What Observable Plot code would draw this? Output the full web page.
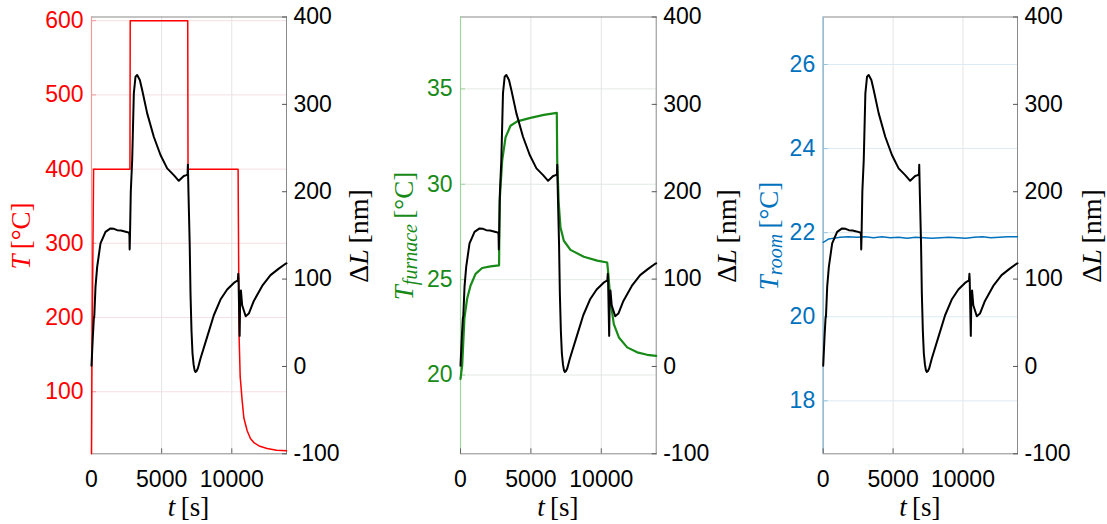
<!DOCTYPE html>
<html><head><meta charset="utf-8">
<script src="https://cdn.jsdelivr.net/npm/d3@7"></script>
<script src="https://cdn.jsdelivr.net/npm/@observablehq/plot@0.6"></script>
<style>
body{margin:0;background:#fff;}
#chart{position:relative;width:1107px;height:524px;overflow:hidden;background:#fff;}
.panel{position:absolute;top:0;height:524px;}
.panel svg{position:absolute;left:0;top:0;max-width:none;}
</style></head><body><div id="chart"></div>
<script>
// ---- tick labels ----
const timeTicks = [0, 5000, 10000];
const dLTicks = [-100, 0, 100, 200, 300, 400];
const tempTicks1 = [100, 200, 300, 400, 500, 600];
const tempTicks2 = [20, 25, 30, 35];
const tempTicks3 = [18, 20, 22, 24, 26];

// ---- ΔL (shared black curve) ----
const dL_t = [0, 95, 166, 200, 285, 404, 641, 998, 1354, 1600, 1830, 2100, 2304, 2500, 2680, 2705, 2720, 2745, 2800, 2900, 3017, 3136, 3255, 3445, 3612, 3970, 4440, 4918, 5394, 5867, 6223, 6580, 6770, 6850, 6870, 6914, 7000, 7057, 7130, 7200, 7280, 7350, 7413, 7480, 7580, 7770, 8245, 8720, 9195, 9670, 10145, 10430, 10460, 10480, 10560, 10600, 10650, 10740, 10990, 11214, 11570, 12166, 12760, 13350, 13830, 13900];
const dL_v = [0.8, 33.8, 54.8, 58, 91, 114, 140.8, 154, 158, 157.5, 156, 155.5, 154.8, 154, 153, 150, 134, 150, 200, 236, 312.6, 331.6, 333.6, 327.8, 316.4, 289.7, 262.9, 242, 226.7, 219, 212.5, 218, 219, 220, 231, 198, 140, 83.5, 40, 14.8, 2, -4.5, -6.3, -5.5, -2.4, 9, 33.8, 58.6, 76.6, 88, 95.6, 98.7, 106, 100, 35, 80, 87, 70, 57.5, 60.5, 75, 92.2, 104.5, 112, 117.6, 118];

// ---- T (red, panel 1) ----
const T_t = [0, 30, 150, 2740, 2760, 6860, 6880, 10450, 10520, 10600, 10740, 10858, 11097, 11330, 11570, 12000, 12520, 13200, 13900];
const T_v = [16.4, 135, 400, 400, 600, 600, 400, 400, 175, 120, 88, 65, 47.4, 37, 31.6, 26.5, 23.5, 21.3, 20.4];

// ---- T_furnace (green, panel 2) ----
const Tf_t = [0, 120, 190, 280, 470, 710, 1070, 1540, 2130, 2740, 2780, 2960, 3200, 3550, 4030, 4970, 5920, 6840, 6870, 6980, 7100, 7340, 7810, 8760, 9710, 10420, 10500, 10650, 10890, 11250, 11840, 12550, 13260, 13900];
const Tf_v = [19.8, 20.5, 21.6, 23.0, 24.0, 24.68, 25.3, 25.61, 25.70, 25.75, 29.1, 31.24, 32.46, 33.07, 33.3, 33.48, 33.64, 33.74, 31.2, 28.97, 27.74, 27.04, 26.56, 26.2, 26.0, 25.9, 25.3, 23.9, 22.67, 21.97, 21.45, 21.19, 21.06, 21.0];

// ---- T_room (blue, panel 3) ----
const Tr_t = [0, 150, 400, 760, 1200, 1800, 2400, 3000, 3600, 4200, 4800, 5400, 6000, 6600, 7200, 7800, 8400, 9000, 9600, 10200, 10800, 11400, 12000, 12600, 13200, 13900];
const Tr_v = [21.77, 21.8, 21.85, 21.87, 21.89, 21.9, 21.89, 21.9, 21.88, 21.9, 21.88, 21.89, 21.87, 21.89, 21.88, 21.87, 21.88, 21.89, 21.88, 21.87, 21.89, 21.9, 21.88, 21.89, 21.9, 21.9];

const tDomain = [0, 13900];
const dLDomain = [-100, 400];

const zip = (ts, vs) => ts.map((t, i) => ({t, v: vs[i]}));
const dLData = zip(dL_t, dL_v);

const panels = [
  {left: 0, width: 370, ml: 91, mr: 84, data: zip(T_t, T_v), domain: [16.4, 605], ticks: tempTicks1,
   color: "#ff0000", axisColor: "#f29a9a", grid: "#f5dfe2", sw: 1.5, sub: null, lx: 21, rx: 358},
  {left: 370, width: 370, ml: 90, mr: 84.3, data: zip(Tf_t, Tf_v), domain: [15.87, 38.77], ticks: tempTicks2,
   color: "#178a17", axisColor: "#9ed39e", grid: "#e2e9e2", sw: 2.2, sub: "furnace", lx: 34, rx: 356},
  {left: 740, width: 367, ml: 82.7, mr: 90, data: zip(Tr_t, Tr_v), domain: [16.74, 27.13], ticks: tempTicks3,
   color: "#0072BD", axisColor: "#93c4e2", grid: "#dceaf3", sw: 1.5, sub: "room", lx: 29, rx: 351}
];

const H = 524, MT = 16.5, MB = 524 - 453.3;
const font = "'Liberation Sans', Arial, sans-serif";
const serif = "'Liberation Serif', 'Times New Roman', serif";

const chart = document.getElementById("chart");
for (const p of panels) {
  const div = document.createElement("div");
  div.className = "panel";
  div.style.left = p.left + "px";
  div.style.width = p.width + "px";
  chart.appendChild(div);

  const common = {
    width: p.width, height: H, marginLeft: p.ml, marginRight: p.mr, marginTop: MT, marginBottom: MB,
    style: {fontFamily: font, fontSize: "23px", background: "transparent", overflow: "visible"}
  };

  const A = Plot.plot({
    ...common,
    x: {domain: tDomain},
    y: {domain: p.domain},
    marks: [
      Plot.gridY(p.ticks, {stroke: p.grid, strokeOpacity: 1}),
      Plot.gridX(timeTicks, {stroke: "#e4e4e4", strokeOpacity: 1}),
      Plot.frame({stroke: "#8a8a8a"}),
      Plot.ruleX([tDomain[0]], {stroke: p.axisColor, strokeWidth: 1.2}),
      Plot.axisY(p.ticks, {anchor: "left", tickSize: 0, tickPadding: 8, tickFormat: d => String(d), fill: p.color, label: null}),
      Plot.axisY(p.ticks, {anchor: "left", tickSize: 5, dx: 5, text: null, stroke: p.axisColor, label: null}),
      Plot.axisX(timeTicks, {anchor: "bottom", tickSize: 0, tickPadding: 17, tickFormat: d => String(d), fill: "#000", label: null}),
      Plot.axisX(timeTicks, {anchor: "bottom", tickSize: 5, dy: -5, text: null, stroke: "#666", label: null}),
      Plot.line(p.data, {x: "t", y: "v", stroke: p.color, strokeWidth: p.sw})
    ]
  });

  const B = Plot.plot({
    ...common,
    x: {domain: tDomain, axis: null},
    y: {domain: dLDomain},
    marks: [
      Plot.axisY(dLTicks, {anchor: "right", tickSize: 0, tickPadding: 7, tickFormat: d => String(d), fill: "#000", label: null}),
      Plot.axisY(dLTicks, {anchor: "right", tickSize: 5, dx: -5, text: null, stroke: "#555", label: null}),
      Plot.line(dLData, {x: "t", y: "v", stroke: "#000", strokeWidth: 2})
    ]
  });

  div.appendChild(A);
  div.appendChild(B);

  // axis titles (LaTeX-like)
  const svg = d3.select(B);
  const g = svg.append("g").attr("font-family", serif);
  const cx = (p.ml + (p.width - p.mr)) / 2;

  const lt = g.append("text")
    .attr("transform", `translate(${p.lx},236) rotate(-90)`)
    .attr("text-anchor", "middle").attr("dominant-baseline", "central")
    .attr("fill", p.color).attr("font-size", 27);
  lt.append("tspan").attr("font-style", "italic").text("T");
  if (p.sub) {
    lt.append("tspan").attr("font-style", "italic").attr("font-size", 20).attr("dy", 6).text(p.sub);
    lt.append("tspan").attr("dy", -6).text("\u2009[°C]");
  } else {
    lt.append("tspan").text("\u2009[°C]");
  }

  const rt = g.append("text")
    .attr("transform", `translate(${p.rx},236) rotate(-90)`)
    .attr("text-anchor", "middle").attr("dominant-baseline", "central")
    .attr("fill", "#000").attr("font-size", 28);
  rt.append("tspan").text("Δ");
  rt.append("tspan").attr("font-style", "italic").text("L");
  rt.append("tspan").text("\u2009[nm]");

  const bt = g.append("text")
    .attr("x", cx).attr("y", 516)
    .attr("text-anchor", "middle").attr("fill", "#000").attr("font-size", 27);
  bt.append("tspan").attr("font-style", "italic").text("t");
  bt.append("tspan").text("\u2009[s]");
}
</script></body></html>
